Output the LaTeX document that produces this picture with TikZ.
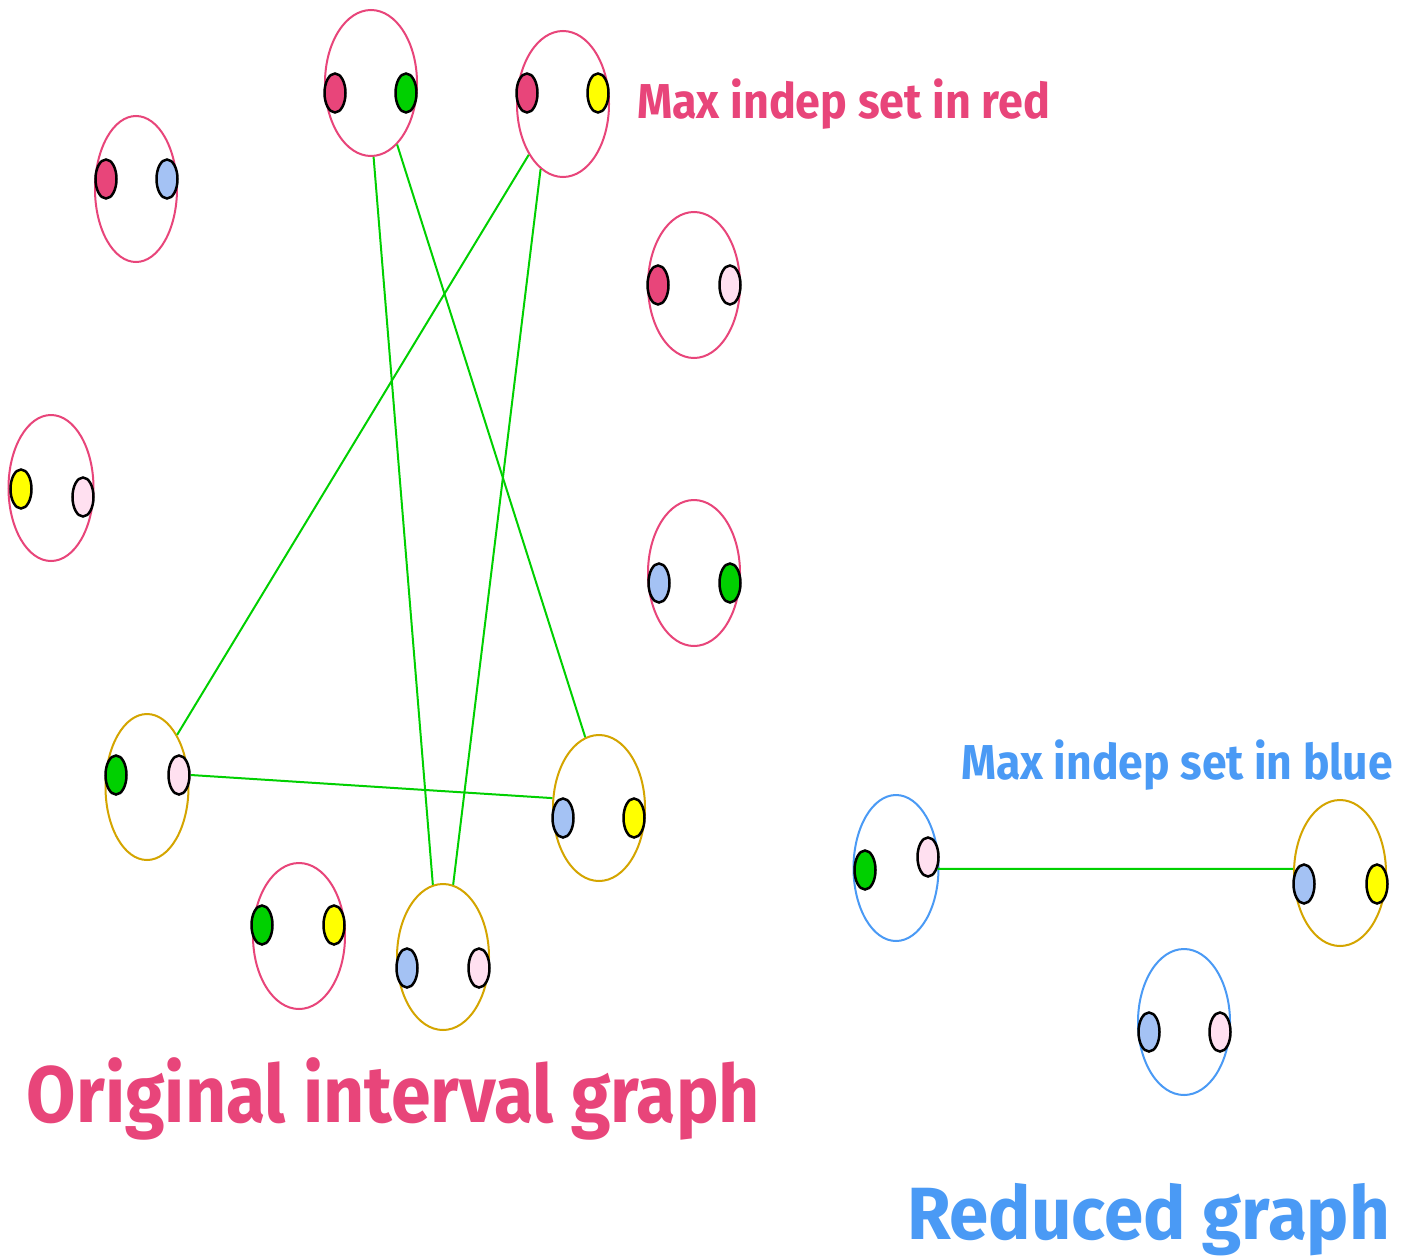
\documentclass[tikz,border=0pt]{standalone}
\usepackage{fontspec}
\usepackage{graphicx}
\setmainfont{Fira Sans}
\usetikzlibrary{shapes.geometric}
\definecolor{rd}{HTML}{E8457A}
\definecolor{gr}{HTML}{00D000}
\definecolor{ye}{HTML}{FFFF00}
\definecolor{lb}{HTML}{A4C2F4}
\definecolor{lp}{HTML}{FFE0F0}
\definecolor{gd}{HTML}{D4A500}
\definecolor{bl}{HTML}{4A9AF5}
\tikzset{
 outer/.style={draw=#1, ellipse, line width=2pt, minimum width=92pt, minimum height=146pt, inner sep=0pt},
 dot/.style={draw=black, fill=#1, ellipse, line width=2.5pt, minimum width=21pt, minimum height=39pt, inner sep=0pt},
 gedge/.style={draw=gr, line width=2pt},
 lbl/.style={text=#1, inner sep=0pt, outer sep=0pt, anchor=base west}
}
\begin{document}
\begin{tikzpicture}[x=1pt,y=-1pt]
\useasboundingbox[fill=white] (0,0) rectangle (1410,1258);
% outer ellipses
\node[outer=rd] (A) at (371,83) {};
\node[outer=rd] (B) at (563,104) {};
\node[outer=rd, minimum width=82pt] (C) at (136,189) {};
\node[outer=rd] (D) at (694,285) {};
\node[outer=rd, minimum width=85pt] (E) at (51,488) {};
\node[outer=rd] (F) at (694,573) {};
\node[outer=gd, minimum width=83pt] (G) at (147,787) {};
\node[outer=gd] (H) at (599,808) {};
\node[outer=rd] (I) at (299,936) {};
\node[outer=gd] (J) at (443,957) {};
\node[outer=bl, minimum width=85pt] (K) at (896,868) {};
\node[outer=gd] (L) at (1340,873) {};
\node[outer=bl] (M) at (1184,1022) {};
% inner dots
\node[dot=rd] (Al) at (335,93) {};
\node[dot=gr] (Ar) at (406,93) {};
\node[dot=rd] (Bl) at (527,93) {};
\node[dot=ye] (Br) at (598,93) {};
\node[dot=rd] (Cl) at (106,179) {};
\node[dot=lb] (Cr) at (167,179) {};
\node[dot=rd] (Dl) at (658,285) {};
\node[dot=lp] (Dr) at (730,285) {};
\node[dot=ye] (El) at (21,489) {};
\node[dot=lp] (Er) at (83,497) {};
\node[dot=lb] (Fl) at (659,583) {};
\node[dot=gr] (Fr) at (730,583) {};
\node[dot=gr] (Gl) at (116,775) {};
\node[dot=lp] (Gr) at (179,775) {};
\node[dot=lb] (Hl) at (563,818) {};
\node[dot=ye] (Hr) at (634,818) {};
\node[dot=gr] (Il) at (262,925) {};
\node[dot=ye] (Ir) at (334,925) {};
\node[dot=lb] (Jl) at (407,968) {};
\node[dot=lp] (Jr) at (479,968) {};
\node[dot=gr] (Kl) at (865,870) {};
\node[dot=lp] (Kr) at (928,857) {};
\node[dot=lb] (Ll) at (1304,884) {};
\node[dot=ye] (Lr) at (1377,884) {};
\node[dot=lb] (Ml) at (1149,1032) {};
\node[dot=lp] (Mr) at (1220,1032) {};
% edges
\draw[gedge] (A.-88) -- (J.98);
\draw[gedge] (A.-67) -- (H.101);
\draw[gedge] (B.-124) -- (G.60);
\draw[gedge] (B.-109) -- (J.82);
\draw[gedge] (Gr.east) -- (H.168);
\draw[gedge] (Kr.-51) -- (L.175);
% labels
\node[lbl=rd, font=\bfseries\fontsize{49}{58}\selectfont] (t1) at (637,118) {\resizebox{413pt}{\height}{Max indep set in red}};
\node[lbl=bl, font=\bfseries\fontsize{49}{58}\selectfont] (t2) at (961,779) {\resizebox{432pt}{\height}{Max indep set in blue}};
\node[lbl=rd, font=\bfseries\fontsize{80}{96}\selectfont] (t3) at (27,1122) {\resizebox{733pt}{\height}{Original interval graph}};
\node[lbl=bl, font=\bfseries\fontsize{74}{90}\selectfont] (t4) at (907,1239) {\resizebox{483pt}{\height}{Reduced graph}};
\end{tikzpicture}
\end{document}
